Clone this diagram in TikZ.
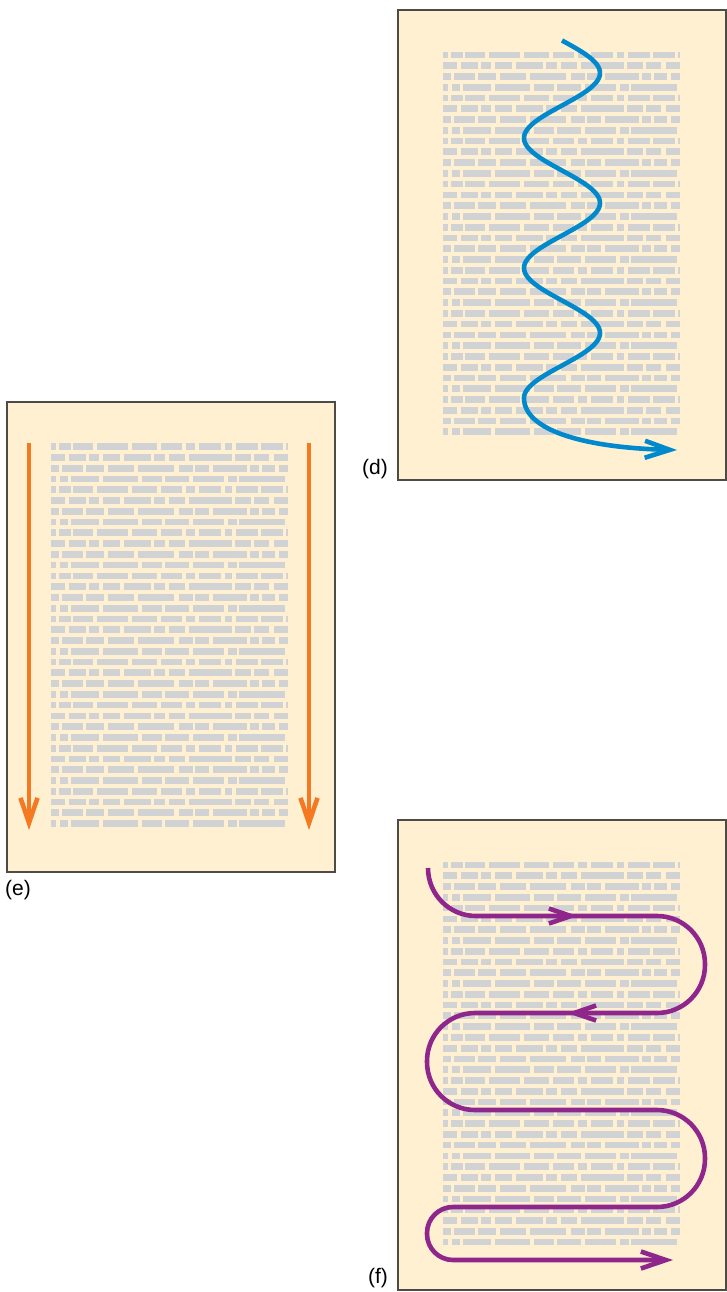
\documentclass[tikz,border=0pt]{standalone}
\usepackage{fontspec}
\setmainfont{Liberation Sans}
\usetikzlibrary{arrows.meta}

\definecolor{paper}{RGB}{255,240,210}
\definecolor{textgray}{RGB}{209,210,212}
\definecolor{frame}{RGB}{78,74,70}
\definecolor{readorange}{RGB}{244,121,32}
\definecolor{readblue}{RGB}{0,137,205}
\definecolor{readpurple}{RGB}{142,38,140}

\tikzset{
  page/.style={draw=frame, line width=1pt, fill=paper, minimum width=164pt, minimum height=235pt, inner sep=0pt},
  lbl/.style={font=\fontsize{10.5}{12}\selectfont, inner sep=0pt},
  readline/.style={line width=2.3pt},
  bigtip/.style={-{Straight Barb[length=12.5pt,width=8.5pt]}},
  smalltip/.style={-{Straight Barb[length=11pt,width=7.5pt]}}
}

% dummy text: 36 lines, 4 line patterns repeated
\newcommand{\textrows}[2]{%
\foreach \rw in {0,...,8} {
  \foreach \a/\b in {0/5,8/20,22/42,46/77,81/106,110/131,135/144,148/170,174/181,185/207,210/232,235/237}
    \fill[textgray] ({#1+\a},{#2+\rw*43.08}) rectangle ({#1+\b},{#2+\rw*43.08+6.7});
  \foreach \a/\b in {0/14,18/35,38/48,52/69,73/100,103/114,118/134,138/181,184/200,203/218,223/237}
    \fill[textgray] ({#1+\a},{#2+\rw*43.08+10.77}) rectangle ({#1+\b},{#2+\rw*43.08+17.47});
  \foreach \a/\b in {0/8,11/32,35/53,57/83,87/123,128/142,144/158,162/196,199/208,211/224,228/237}
    \fill[textgray] ({#1+\a},{#2+\rw*43.08+21.54}) rectangle ({#1+\b},{#2+\rw*43.08+28.24});
  \foreach \a/\b in {0/5,9/17,20/48,52/87,91/111,114/138,142/173,177/186,188/234}
    \fill[textgray] ({#1+\a},{#2+\rw*43.08+32.31}) rectangle ({#1+\b},{#2+\rw*43.08+39.01});
}}

\begin{document}
\begin{tikzpicture}[x=0.5pt, y=-0.5pt]
\useasboundingbox (0,0) rectangle (727,1292);

% pages
\node[page] (pageD) at (562,245) {};
\node[page] (pageE) at (170.5,636.5) {};
\node[page] (pageF) at (562,1055) {};

\textrows{443}{51.5}
\textrows{51}{443.3}
\textrows{443}{861.7}

% labels
\node[lbl] (labelD) at (375,469) {(d)};
\node[lbl] (labelE) at (18,890) {(e)};
\node[lbl] (labelF) at (378,1278) {(f)};

% (d) zigzag reading
\draw[readline, readblue, bigtip] plot[domain=40.5:398, samples=150, smooth, variable=\t] ({562+38*sin(2.76923*(\t-40.5))},\t)
  .. controls (524,432) and (590,448) .. (677,450);

% (e) two columns
\draw[readline, readorange, bigtip] (29,443) -- (29,830);
\draw[readline, readorange, bigtip] (309,443) -- (309,830);

% (f) back and forth
\draw[readline, readpurple, bigtip] (428,868) [rounded corners=24pt] -- (428,916) -- (705,916) -- (705,1013) -- (427,1013) -- (427,1110) -- (705,1110) -- (705,1207) [rounded corners=13pt] -- (427,1207) -- (427,1260) [sharp corners] -- (673,1260);
\draw[readline, readpurple, smalltip] (552,916) -- (578,916);
\draw[readline, readpurple, smalltip] (593,1013) -- (567,1013);

\end{tikzpicture}
\end{document}
